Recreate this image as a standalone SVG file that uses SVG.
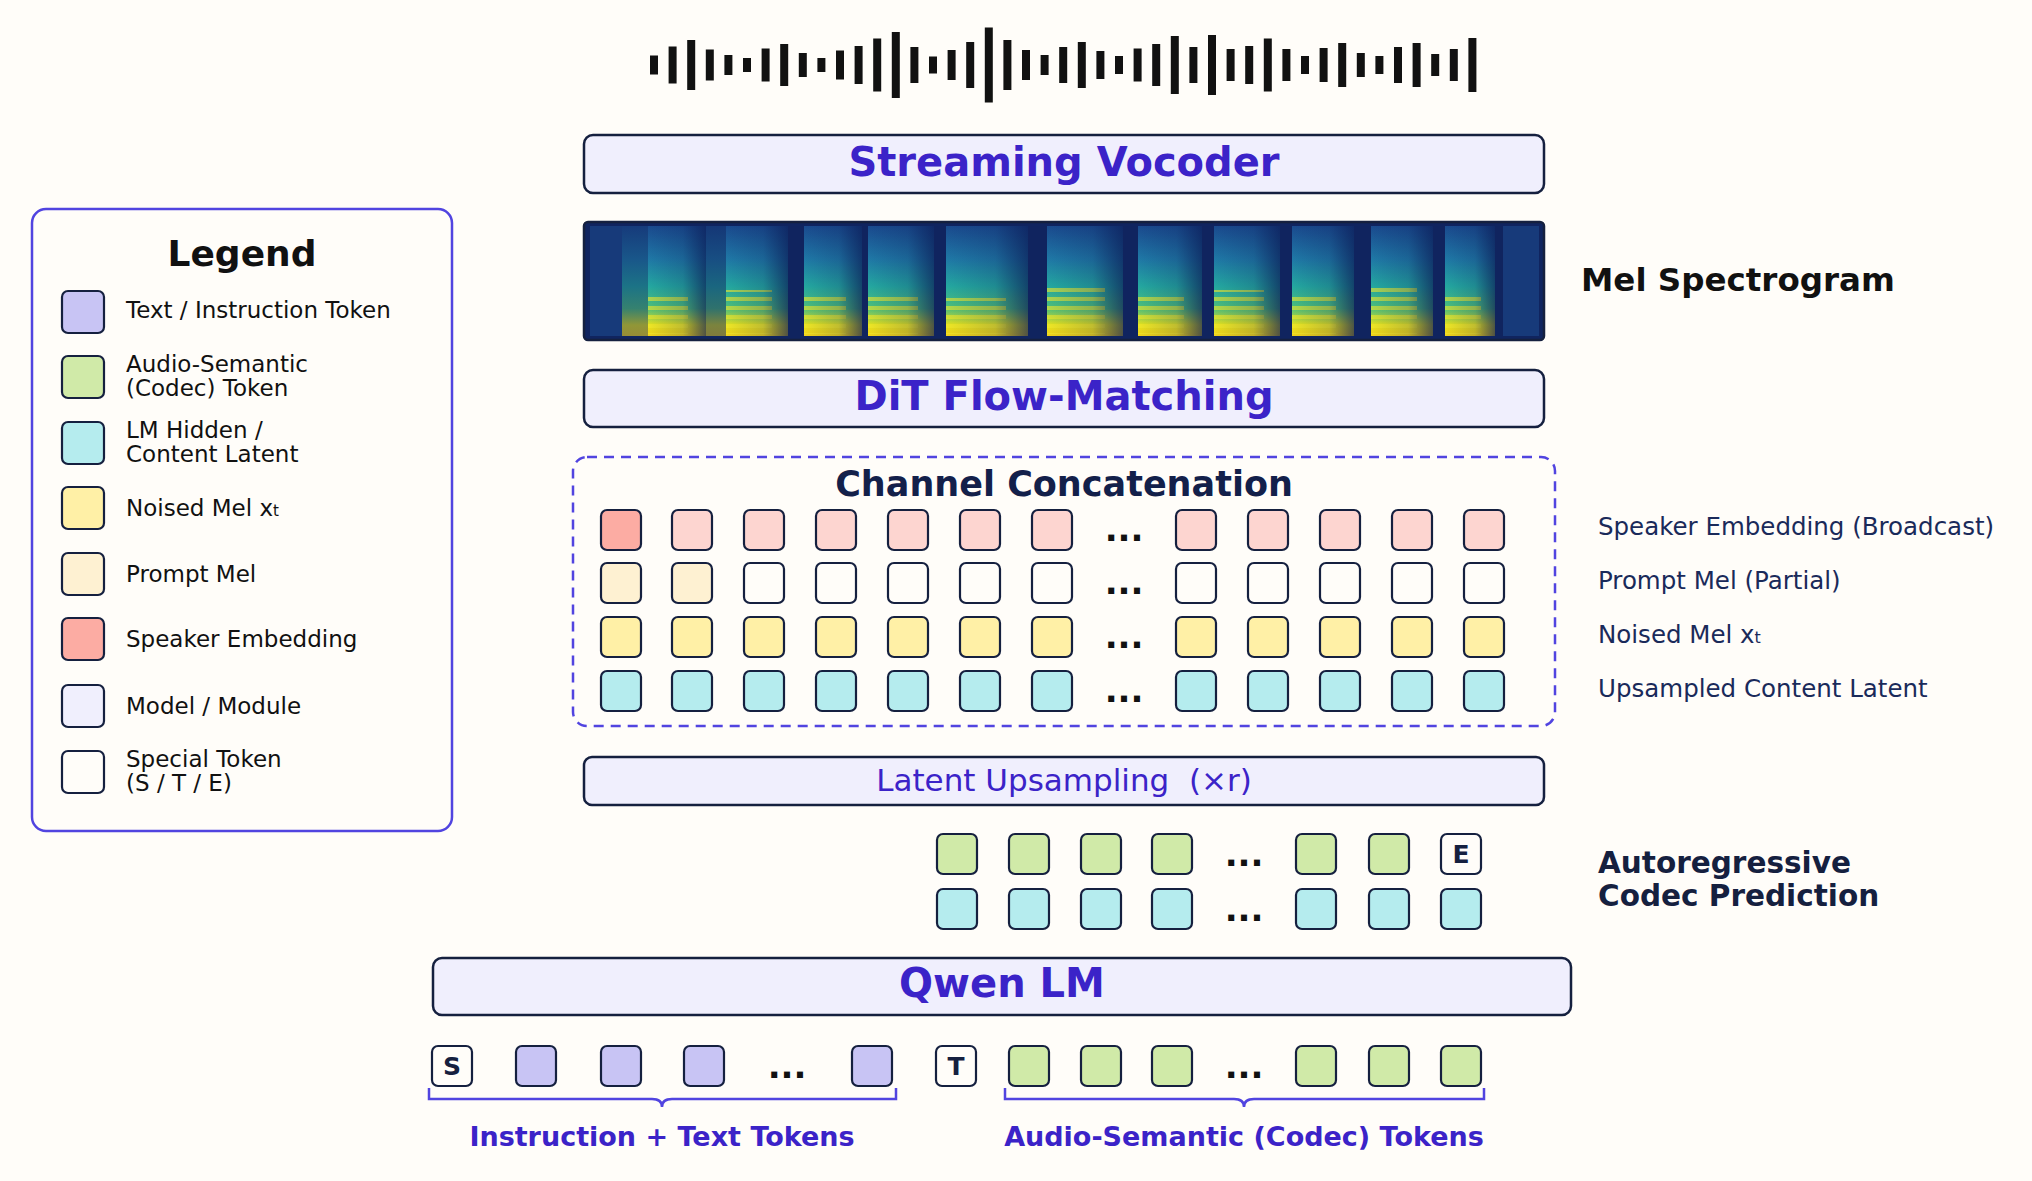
<svg xmlns="http://www.w3.org/2000/svg" width="2032" height="1181" viewBox="0 0 2032 1181">
<style>
text{font-family:"DejaVu Sans","Liberation Sans",sans-serif}
.box{fill:#f0effd;stroke:#15203f;stroke-width:2.5}
.tk{stroke:#15203f;stroke-width:2.2}
.lav{fill:#c8c4f4}.grn{fill:#d0eaa8}.cyn{fill:#b5ecee}.yel{fill:#fff0a6}.pm{fill:#fef1d2}.spk{fill:#fcaca3}.spl{fill:#fdd5d0}.wht{fill:#fffdf9}.mod{fill:#f0effd}
.lg{font-size:23px;fill:#111}
.rl{font-size:24.5px;fill:#1a2a5a}
.dots{font-size:34px;font-weight:bold;fill:#111;text-anchor:middle}
.title{font-weight:bold;fill:#3b23c8;text-anchor:middle}
.stk{font-size:25px;font-weight:bold;fill:#15203f;text-anchor:middle}
.brace{fill:none;stroke:#5144e0;stroke-width:2.5}
.blab{font-size:27px;font-weight:bold;fill:#3b23c8;text-anchor:middle}
.bar{fill:#111}
</style>
<defs>
<linearGradient id="seg" x1="0" y1="0" x2="0" y2="1">
<stop offset="0" stop-color="#1a4a8e"/><stop offset="0.3" stop-color="#1f78a6"/><stop offset="0.55" stop-color="#24a8a0"/><stop offset="0.75" stop-color="#4fc07a"/><stop offset="0.9" stop-color="#e6e31d"/><stop offset="1" stop-color="#f2d21a"/>
</linearGradient>
<linearGradient id="fade" x1="0" y1="0" x2="1" y2="0">
<stop offset="0" stop-color="#0b1a55" stop-opacity="0"/><stop offset="0.6" stop-color="#0b1a55" stop-opacity="0.2"/><stop offset="1" stop-color="#0b1a55" stop-opacity="0.7"/>
</linearGradient>
<pattern id="stripes" width="8" height="9" patternUnits="userSpaceOnUse">
<rect width="8" height="4" fill="#f4ea2a" opacity="0.8"/>
</pattern>
</defs>
<rect width="2032" height="1181" fill="#fffdf9"/>

<g id="waveform">
<rect class="bar" x="650" y="55.5" width="8" height="19"/><rect class="bar" x="668.6" y="46.5" width="8" height="37"/><rect class="bar" x="687.2" y="40" width="8" height="50"/><rect class="bar" x="705.8" y="49.5" width="8" height="31"/><rect class="bar" x="724.4" y="55" width="8" height="20"/><rect class="bar" x="743" y="58" width="8" height="14"/><rect class="bar" x="761.6" y="48.5" width="8" height="33"/><rect class="bar" x="780.2" y="44" width="8" height="42"/><rect class="bar" x="798.8" y="53" width="8" height="24"/><rect class="bar" x="817.4" y="58" width="8" height="14"/><rect class="bar" x="836" y="50.5" width="8" height="29"/><rect class="bar" x="854.6" y="46" width="8" height="38"/><rect class="bar" x="873.2" y="38.5" width="8" height="53"/><rect class="bar" x="891.8" y="32" width="8" height="66"/><rect class="bar" x="910.4" y="47" width="8" height="36"/><rect class="bar" x="929" y="56.5" width="8" height="17"/><rect class="bar" x="947.6" y="50" width="8" height="30"/><rect class="bar" x="966.2" y="42" width="8" height="46"/><rect class="bar" x="984.8" y="27.5" width="8" height="75"/><rect class="bar" x="1003.4" y="40" width="8" height="50"/><rect class="bar" x="1022" y="50" width="8" height="30"/><rect class="bar" x="1040.6" y="55" width="8" height="20"/><rect class="bar" x="1059.2" y="47" width="8" height="36"/><rect class="bar" x="1077.8" y="42" width="8" height="46"/><rect class="bar" x="1096.4" y="51" width="8" height="28"/><rect class="bar" x="1115" y="56" width="8" height="18"/><rect class="bar" x="1133.6" y="48.5" width="8" height="33"/><rect class="bar" x="1152.2" y="44" width="8" height="42"/><rect class="bar" x="1170.8" y="36" width="8" height="58"/><rect class="bar" x="1189.4" y="47" width="8" height="36"/><rect class="bar" x="1208" y="35" width="8" height="60"/><rect class="bar" x="1226.6" y="49" width="8" height="32"/><rect class="bar" x="1245.2" y="46" width="8" height="38"/><rect class="bar" x="1263.8" y="38.5" width="8" height="53"/><rect class="bar" x="1282.4" y="49" width="8" height="32"/><rect class="bar" x="1301" y="56" width="8" height="18"/><rect class="bar" x="1319.6" y="48" width="8" height="34"/><rect class="bar" x="1338.2" y="43" width="8" height="44"/><rect class="bar" x="1356.8" y="53" width="8" height="24"/><rect class="bar" x="1375.4" y="56" width="8" height="18"/><rect class="bar" x="1394" y="47" width="8" height="36"/><rect class="bar" x="1412.6" y="43" width="8" height="44"/><rect class="bar" x="1431.2" y="54" width="8" height="22"/><rect class="bar" x="1449.8" y="49" width="8" height="32"/><rect class="bar" x="1468.4" y="38" width="8" height="54"/>
</g>

<g id="vocoder"><rect class="box" x="584" y="135" width="960" height="58" rx="9"/><text class="title" x="1064" y="176" font-size="40">Streaming Vocoder</text></g>

<g id="mel">
<rect x="584" y="222" width="960" height="118" rx="4" fill="#10245f"/>
<rect x="590" y="226" width="32" height="110" fill="#173a7a"/>
<rect x="1503" y="226" width="36" height="110" fill="#173a7a"/>
<rect x="622" y="226" width="26" height="110" fill="url(#seg)" opacity="0.6"/>
<rect x="648" y="226" width="58" height="110" fill="url(#seg)"/>
<rect x="706" y="226" width="20" height="110" fill="url(#seg)" opacity="0.5"/>
<rect x="726" y="226" width="62" height="110" fill="url(#seg)"/>
<rect x="804" y="226" width="58" height="110" fill="url(#seg)"/>
<rect x="868" y="226" width="66" height="110" fill="url(#seg)"/>
<rect x="946" y="226" width="82" height="110" fill="url(#seg)"/>
<rect x="1047" y="226" width="76" height="110" fill="url(#seg)"/>
<rect x="1138" y="226" width="64" height="110" fill="url(#seg)"/>
<rect x="1214" y="226" width="66" height="110" fill="url(#seg)"/>
<rect x="1292" y="226" width="62" height="110" fill="url(#seg)"/>
<rect x="1371" y="226" width="62" height="110" fill="url(#seg)"/>
<rect x="1445" y="226" width="50" height="110" fill="url(#seg)"/>
<g opacity="0.75">
<rect x="648" y="296" width="40" height="38" fill="url(#stripes)"/><rect x="726" y="290" width="46" height="44" fill="url(#stripes)"/><rect x="804" y="292" width="42" height="42" fill="url(#stripes)"/><rect x="868" y="294" width="50" height="40" fill="url(#stripes)"/><rect x="946" y="298" width="60" height="36" fill="url(#stripes)"/><rect x="1047" y="288" width="58" height="46" fill="url(#stripes)"/><rect x="1138" y="292" width="46" height="42" fill="url(#stripes)"/><rect x="1214" y="290" width="50" height="44" fill="url(#stripes)"/><rect x="1292" y="294" width="44" height="40" fill="url(#stripes)"/><rect x="1371" y="286" width="46" height="48" fill="url(#stripes)"/><rect x="1445" y="296" width="36" height="38" fill="url(#stripes)"/>
</g>
<rect x="648" y="226" width="58" height="110" fill="url(#fade)"/><rect x="726" y="226" width="62" height="110" fill="url(#fade)"/><rect x="804" y="226" width="58" height="110" fill="url(#fade)"/><rect x="868" y="226" width="66" height="110" fill="url(#fade)"/><rect x="946" y="226" width="82" height="110" fill="url(#fade)"/><rect x="1047" y="226" width="76" height="110" fill="url(#fade)"/><rect x="1138" y="226" width="64" height="110" fill="url(#fade)"/><rect x="1214" y="226" width="66" height="110" fill="url(#fade)"/><rect x="1292" y="226" width="62" height="110" fill="url(#fade)"/><rect x="1371" y="226" width="62" height="110" fill="url(#fade)"/><rect x="1445" y="226" width="50" height="110" fill="url(#fade)"/>
<rect x="584" y="222" width="960" height="118" rx="4" fill="none" stroke="#15203f" stroke-width="2.5"/>
<text x="1581" y="291" font-size="32.5" font-weight="bold" fill="#111">Mel Spectrogram</text>
</g>

<g id="dit"><rect class="box" x="584" y="370" width="960" height="57" rx="9"/><text class="title" x="1064" y="410" font-size="40">DiT Flow-Matching</text></g>

<g id="concat">
<rect x="573" y="457" width="982" height="269" rx="14" fill="none" stroke="#5144e0" stroke-width="2.5" stroke-dasharray="10,7"/>
<text x="1064" y="496" font-size="35" font-weight="bold" fill="#13204a" text-anchor="middle">Channel Concatenation</text>
<g class="tk">
<rect class="spk" x="601" y="510" width="40" height="40" rx="6"/><rect class="spl" x="672" y="510" width="40" height="40" rx="6"/><rect class="spl" x="744" y="510" width="40" height="40" rx="6"/><rect class="spl" x="816" y="510" width="40" height="40" rx="6"/><rect class="spl" x="888" y="510" width="40" height="40" rx="6"/><rect class="spl" x="960" y="510" width="40" height="40" rx="6"/><rect class="spl" x="1032" y="510" width="40" height="40" rx="6"/><rect class="spl" x="1176" y="510" width="40" height="40" rx="6"/><rect class="spl" x="1248" y="510" width="40" height="40" rx="6"/><rect class="spl" x="1320" y="510" width="40" height="40" rx="6"/><rect class="spl" x="1392" y="510" width="40" height="40" rx="6"/><rect class="spl" x="1464" y="510" width="40" height="40" rx="6"/>
<rect class="pm" x="601" y="563" width="40" height="40" rx="6"/><rect class="pm" x="672" y="563" width="40" height="40" rx="6"/><rect class="wht" x="744" y="563" width="40" height="40" rx="6"/><rect class="wht" x="816" y="563" width="40" height="40" rx="6"/><rect class="wht" x="888" y="563" width="40" height="40" rx="6"/><rect class="wht" x="960" y="563" width="40" height="40" rx="6"/><rect class="wht" x="1032" y="563" width="40" height="40" rx="6"/><rect class="wht" x="1176" y="563" width="40" height="40" rx="6"/><rect class="wht" x="1248" y="563" width="40" height="40" rx="6"/><rect class="wht" x="1320" y="563" width="40" height="40" rx="6"/><rect class="wht" x="1392" y="563" width="40" height="40" rx="6"/><rect class="wht" x="1464" y="563" width="40" height="40" rx="6"/>
<rect class="yel" x="601" y="617" width="40" height="40" rx="6"/><rect class="yel" x="672" y="617" width="40" height="40" rx="6"/><rect class="yel" x="744" y="617" width="40" height="40" rx="6"/><rect class="yel" x="816" y="617" width="40" height="40" rx="6"/><rect class="yel" x="888" y="617" width="40" height="40" rx="6"/><rect class="yel" x="960" y="617" width="40" height="40" rx="6"/><rect class="yel" x="1032" y="617" width="40" height="40" rx="6"/><rect class="yel" x="1176" y="617" width="40" height="40" rx="6"/><rect class="yel" x="1248" y="617" width="40" height="40" rx="6"/><rect class="yel" x="1320" y="617" width="40" height="40" rx="6"/><rect class="yel" x="1392" y="617" width="40" height="40" rx="6"/><rect class="yel" x="1464" y="617" width="40" height="40" rx="6"/>
<rect class="cyn" x="601" y="671" width="40" height="40" rx="6"/><rect class="cyn" x="672" y="671" width="40" height="40" rx="6"/><rect class="cyn" x="744" y="671" width="40" height="40" rx="6"/><rect class="cyn" x="816" y="671" width="40" height="40" rx="6"/><rect class="cyn" x="888" y="671" width="40" height="40" rx="6"/><rect class="cyn" x="960" y="671" width="40" height="40" rx="6"/><rect class="cyn" x="1032" y="671" width="40" height="40" rx="6"/><rect class="cyn" x="1176" y="671" width="40" height="40" rx="6"/><rect class="cyn" x="1248" y="671" width="40" height="40" rx="6"/><rect class="cyn" x="1320" y="671" width="40" height="40" rx="6"/><rect class="cyn" x="1392" y="671" width="40" height="40" rx="6"/><rect class="cyn" x="1464" y="671" width="40" height="40" rx="6"/>
</g>
<text class="dots" x="1124" y="541">...</text><text class="dots" x="1124" y="594">...</text><text class="dots" x="1124" y="648">...</text><text class="dots" x="1124" y="702">...</text>
<text class="rl" x="1598" y="535">Speaker Embedding (Broadcast)</text>
<text class="rl" x="1598" y="589">Prompt Mel (Partial)</text>
<text class="rl" x="1598" y="643">Noised Mel x<tspan font-size="16">t</tspan></text>
<text class="rl" x="1598" y="697">Upsampled Content Latent</text>
</g>

<g id="upsampling"><rect class="box" x="584" y="757" width="960" height="48" rx="8"/><text x="1064" y="791" font-size="31" fill="#3b23c8" text-anchor="middle" xml:space="preserve">Latent Upsampling  (×r)</text></g>

<g id="ar">
<g class="tk">
<rect class="grn" x="937" y="834" width="40" height="40" rx="6"/><rect class="grn" x="1009" y="834" width="40" height="40" rx="6"/><rect class="grn" x="1081" y="834" width="40" height="40" rx="6"/><rect class="grn" x="1152" y="834" width="40" height="40" rx="6"/><rect class="grn" x="1296" y="834" width="40" height="40" rx="6"/><rect class="grn" x="1369" y="834" width="40" height="40" rx="6"/><rect class="wht" x="1441" y="834" width="40" height="40" rx="6"/>
<rect class="cyn" x="937" y="889" width="40" height="40" rx="6"/><rect class="cyn" x="1009" y="889" width="40" height="40" rx="6"/><rect class="cyn" x="1081" y="889" width="40" height="40" rx="6"/><rect class="cyn" x="1152" y="889" width="40" height="40" rx="6"/><rect class="cyn" x="1296" y="889" width="40" height="40" rx="6"/><rect class="cyn" x="1369" y="889" width="40" height="40" rx="6"/><rect class="cyn" x="1441" y="889" width="40" height="40" rx="6"/>
</g>
<text class="stk" x="1461" y="863">E</text>
<text class="dots" x="1244" y="866">...</text><text class="dots" x="1244" y="921">...</text>
<text x="1598" y="873" font-size="29.5" font-weight="bold" fill="#15203f">Autoregressive</text>
<text x="1598" y="906" font-size="29.5" font-weight="bold" fill="#15203f">Codec Prediction</text>
</g>

<g id="qwen"><rect class="box" x="433" y="958" width="1138" height="57" rx="9"/><text class="title" x="1002" y="997" font-size="40">Qwen LM</text></g>

<g id="input">
<g class="tk">
<rect class="wht" x="432" y="1046" width="40" height="40" rx="6"/><rect class="lav" x="516" y="1046" width="40" height="40" rx="6"/><rect class="lav" x="601" y="1046" width="40" height="40" rx="6"/><rect class="lav" x="684" y="1046" width="40" height="40" rx="6"/><rect class="lav" x="852" y="1046" width="40" height="40" rx="6"/>
<rect class="wht" x="936" y="1046" width="40" height="40" rx="6"/><rect class="grn" x="1009" y="1046" width="40" height="40" rx="6"/><rect class="grn" x="1081" y="1046" width="40" height="40" rx="6"/><rect class="grn" x="1152" y="1046" width="40" height="40" rx="6"/><rect class="grn" x="1296" y="1046" width="40" height="40" rx="6"/><rect class="grn" x="1369" y="1046" width="40" height="40" rx="6"/><rect class="grn" x="1441" y="1046" width="40" height="40" rx="6"/>
</g>
<text class="stk" x="452" y="1075">S</text><text class="stk" x="956" y="1075">T</text>
<text class="dots" x="787" y="1078">...</text><text class="dots" x="1244" y="1078">...</text>
<path class="brace" d="M429 1088 V1099 H652 Q662 1099 662 1107 Q662 1099 672 1099 H896 V1088"/>
<path class="brace" d="M1005 1088 V1099 H1234 Q1244 1099 1244 1107 Q1244 1099 1254 1099 H1484 V1088"/>
<text class="blab" x="662" y="1146">Instruction + Text Tokens</text>
<text class="blab" x="1244" y="1146">Audio-Semantic (Codec) Tokens</text>
</g>

<g id="legend">
<rect x="32" y="209" width="420" height="622" rx="14" fill="#fffdf9" stroke="#5144e0" stroke-width="2.5"/>
<text x="242" y="266" font-size="36" font-weight="bold" fill="#111" text-anchor="middle">Legend</text>
<g class="tk">
<rect class="lav" x="62" y="291" width="42" height="42" rx="6"/><rect class="grn" x="62" y="356" width="42" height="42" rx="6"/><rect class="cyn" x="62" y="422" width="42" height="42" rx="6"/><rect class="yel" x="62" y="487" width="42" height="42" rx="6"/><rect class="pm" x="62" y="553" width="42" height="42" rx="6"/><rect class="spk" x="62" y="618" width="42" height="42" rx="6"/><rect class="mod" x="62" y="685" width="42" height="42" rx="6"/><rect class="wht" x="62" y="751" width="42" height="42" rx="6"/>
</g>
<text class="lg" x="126" y="318">Text / Instruction Token</text>
<text class="lg" x="126" y="372">Audio-Semantic</text><text class="lg" x="126" y="396">(Codec) Token</text>
<text class="lg" x="126" y="438">LM Hidden /</text><text class="lg" x="126" y="462">Content Latent</text>
<text class="lg" x="126" y="516">Noised Mel x<tspan font-size="15">t</tspan></text>
<text class="lg" x="126" y="582">Prompt Mel</text>
<text class="lg" x="126" y="647">Speaker Embedding</text>
<text class="lg" x="126" y="714">Model / Module</text>
<text class="lg" x="126" y="767">Special Token</text><text class="lg" x="126" y="791">(S / T / E)</text>
</g>
</svg>
